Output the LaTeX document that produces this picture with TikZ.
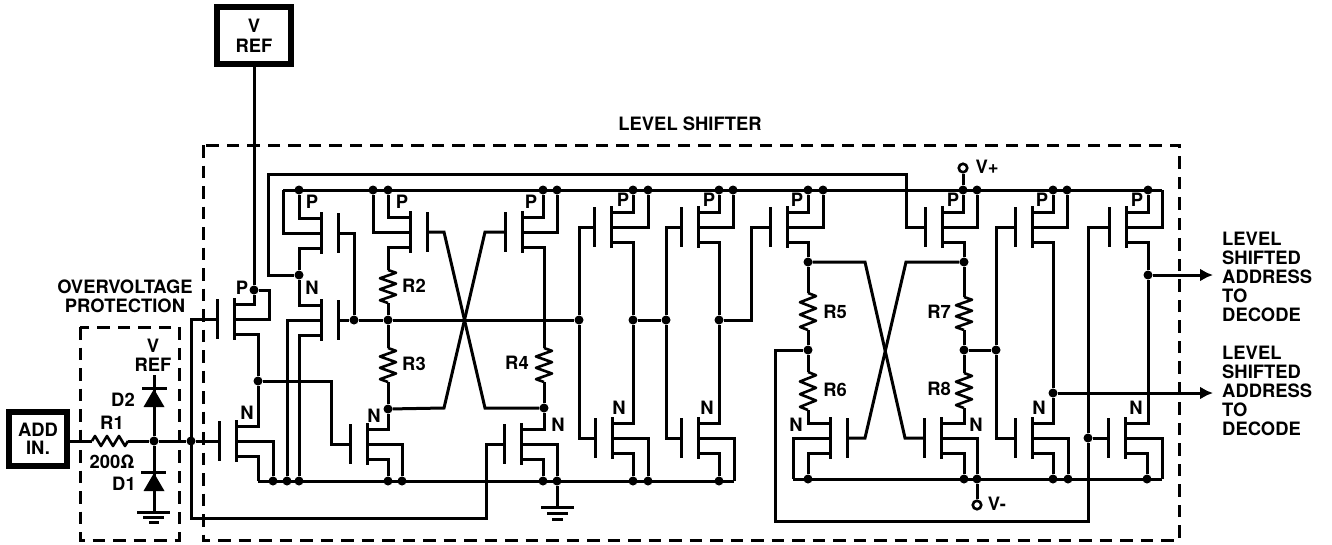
\documentclass[tikz,border=0pt]{standalone}
\usepackage{fontspec}
\setmainfont{TeX Gyre Heros}
\usetikzlibrary{arrows.meta}
\tikzset{
  x=1pt,y=-1pt,
  wire/.style={line width=3pt,line join=miter,line cap=butt},
  plate/.style={line width=3pt},
  box/.style={draw,line width=6pt,minimum width=58pt,minimum height=54pt,inner sep=0pt,align=center,font=\lab},
  jdot/.style={circle,fill=black,inner sep=0pt,minimum size=9pt},
  term/.style={circle,draw,line width=2.6pt,fill=white,inner sep=0pt,minimum size=8.5pt},
  lbl/.style={font=\lab,inner sep=0pt,align=center},
  lbll/.style={font=\lab,inner sep=0pt,align=left},
  dashbox/.style={line width=3pt,dash pattern=on 12.5pt off 8pt},
  outarrow/.style={wire,-{Latex[length=13pt,width=13pt]}},
}
\newcommand\lab{\fontsize{18.4}{19}\selectfont\bfseries}
% name, channel x, mid y, gate side (+1/-1)
\newcommand\fet[4]{%
  \coordinate (#1-d) at (#2,#3-15);
  \coordinate (#1-m) at (#2,#3);
  \coordinate (#1-s) at (#2,#3+15);
  \coordinate (#1-g) at (#2+17*#4,#3);
  \draw[plate] (#2,#3-21) -- (#2,#3+21);
  \draw[plate] (#2+17*#4,#3-20) -- (#2+17*#4,#3+20);
}
% zigzag resistor between two coordinates
\newcommand\vres[3]{%
  \draw[line width=2.6pt,line join=round] (#1,#2)
  \foreach \k/\o in {1/8,3/-8,5/8,7/-8,9/8,11/-8} {-- (#1+\o,{#2+(#3-#2)*\k/12})} -- (#1,#3);
}
\newcommand\jn[3]{\node[jdot] (#1) at (#2,#3) {};}
\begin{document}
\begin{tikzpicture}
\useasboundingbox (0,0) rectangle (1332,544);
% junctions: top bus
\foreach \n/\x in {t1/299,t2/373,t3/388,t4/543,t5/557,t6/633,t7/648,t8/719,t9/733,t10/808,t11/823,t12/963,t13/977,t14/1053,t15/1067,t16/1148} {\jn{\n}{\x}{190}}
\foreach \n/\x in {b1/273,b2/287,b3/299,b4/388,b5/402,b6/543,b7/557,b8/633,b9/648,b10/719} {\jn{\n}{\x}{481}}
\foreach \n/\x in {c1/808,c2/964,c3/977,c4/1053,c5/1068,c6/1147} {\jn{\n}{\x}{479}}
\coordinate (tL) at (283,190); \coordinate (tR) at (1162,190);
\coordinate (bL) at (258,481); \coordinate (bR) at (734,481);
\coordinate (cL) at (793,479); \coordinate (cR) at (1162,479);
\jn{jA}{299}{275} \jn{jB}{354}{320} \jn{jC}{388}{320} \jn{jD}{579}{320}
\jn{jF}{258}{381} \jn{jG}{191}{441} \jn{jH}{154}{441} \jn{jI}{388}{409}
\jn{jJ}{544}{408} \jn{jK}{633}{320} \jn{jL}{666}{320} \jn{jM}{719}{320}
\jn{jN}{808}{262} \jn{jO}{808}{350} \jn{jP}{964}{262} \jn{jQ}{964}{350}
\jn{jR}{996}{350} \jn{jS}{1053}{393} \jn{jT}{1148}{275} \jn{jU}{1088}{438}
\jn{jV}{254}{290}
% transistors
\fet{qa}{234}{319}{-1} \fet{qb}{236}{441}{-1}
\fet{qc}{321}{233}{1}  \fet{qd}{321}{320}{1}
\fet{qe}{367}{444}{-1}
\fet{qf}{410}{232}{1}  \fet{qg}{522}{232}{-1} \fet{qh}{521}{444}{-1}
\fet{qi}{611}{227}{-1} \fet{qj}{612}{438}{-1}
\fet{qk}{698}{227}{-1} \fet{ql}{698}{438}{-1}
\fet{qm}{787}{227}{-1} \fet{qn}{830}{438}{1}
\fet{qo}{942}{227}{-1} \fet{qp}{941}{438}{-1}
\fet{qq}{1032}{227}{-1} \fet{qr}{1032}{438}{-1}
\fet{qs}{1126}{227}{-1} \fet{qt}{1125}{438}{-1}
% boxes and terminals
\node[box,minimum width=74pt,minimum height=57pt] (vref) at (254,35.5) {V\\[1pt]REF};
\node[box] (add) at (38,439) {ADD\\[-1pt]IN.};
\node[term] (vp) at (963,168) {};
\node[term] (vm) at (977,505) {};
% buses
\draw[wire] (tL) -- (tR);
\draw[wire] (bL) -- (bR);
\draw[wire] (cL) -- (cR);
% left input section
\coordinate (r1l) at (92,441); \coordinate (r1r) at (128,441);
\draw[wire] (add.east |- r1l) -- (r1l);
\draw[line width=2.6pt,line join=round] (92,441) -- (95,436) -- (101,446) -- (107,436) -- (113,446) -- (119,436) -- (125,446) -- (128,441);
\draw[wire] (r1r) -- (jH) -- (jG) -- (qb-g);
% D2 / D1
\coordinate (d2t) at (154,375); \coordinate (d1b) at (154,512);
\draw[wire] (d2t) -- (jH) -- (d1b);
\draw[plate] (142,388) -- (167,388);
\fill (154,389) -- (164.5,407) -- (143.5,407) -- cycle;
\draw[plate] (141,472) -- (166,472);
\fill (154,473) -- (164.5,491) -- (143.5,491) -- cycle;
\draw[plate] (137,512) -- (170,512) (143,517) -- (164,517) (149,522.5) -- (159,522.5);
% left P / N
\coordinate (w3) at (269,290);
\draw[wire] (qa-d) -| (jV);
\draw[wire] (qa-m) -| (w3) -- (jV);
\draw[wire] (jV) -- (vref.south);
\draw[wire] (qa-s) -| (jF) |- (qb-d);
\draw[wire] (qb-m) -| (b1);
\draw[wire] (qb-s) -| (bL);
\coordinate (w4) at (191,518); \coordinate (w5) at (486,518);
\draw[wire] (qa-g) -| (w4) -- (w5) |- (qh-g);
\coordinate (w6) at (331,381);
\draw[wire] (jF) -- (w6) |- (qe-g);
% column 299
\draw[wire] (qc-d) -| (t1);
\draw[wire] (qc-m) -| (tL);
\draw[wire] (qc-s) -| (jA) |- (qd-d);
\coordinate (w1) at (268,174); \coordinate (w2) at (906,174);
\draw[wire] (jA) -| (w1) -- (w2) |- (qo-g);
\draw[wire] (qd-m) -| (b2);
\draw[wire] (qd-s) -| (b3);
\draw[wire] (qd-g) -- (jB) -- (jC) -- (jD);
\draw[wire] (qc-g) -| (jB);
% column 388
\coordinate (r2t) at (388,270); \coordinate (r2b) at (388,303);
\coordinate (r3t) at (388,348); \coordinate (r3b) at (388,382);
\draw[wire] (qf-d) -| (t3);
\draw[wire] (qf-m) -| (t2);
\draw[wire] (qf-s) -| (r2t);
\vres{388}{270}{303}
\draw[wire] (r2b) -- (jC) -- (r3t);
\vres{388}{348}{382}
\draw[wire] (r3b) -- (jI) |- (qe-d);
\draw[wire] (qe-m) -| (b5);
\draw[wire] (qe-s) -| (b4);
% cross 1
\coordinate (x1) at (444,232); \coordinate (x2) at (485,408);
\coordinate (x3) at (485,232); \coordinate (x4) at (444,408);
\draw[wire] (qf-g) -- (x1) -- (x2) -- (jJ);
\draw[wire] (qg-g) -- (x3) -- (x4) -- (jI);
% column 543
\coordinate (r4t) at (544,348); \coordinate (r4b) at (544,382);
\draw[wire] (qg-d) -| (t4);
\draw[wire] (qg-m) -| (t5);
\draw[wire] (qg-s) -| (r4t);
\vres{544}{348}{382}
\draw[wire] (r4b) -- (jJ) |- (qh-d);
\draw[wire] (qh-m) -| (b7);
\draw[wire] (qh-s) -| (b6);
\coordinate (g2) at (557,507);
\draw[wire] (b7) -- (g2);
\draw[plate] (541,507) -- (574,507) (547,513) -- (568,513) (552,519) -- (563,519);
% column 633
\draw[wire] (qi-d) -| (t6);
\draw[wire] (qi-m) -| (t7);
\draw[wire] (qi-s) -| (jK) |- (qj-d);
\draw[wire] (qj-m) -| (b9);
\draw[wire] (qj-s) -| (b8);
\draw[wire] (qi-g) -| (jD) |- (qj-g);
\draw[wire] (jK) -- (jL);
% column 719
\draw[wire] (qk-g) -| (jL) |- (ql-g);
\draw[wire] (qk-d) -| (t8);
\draw[wire] (qk-m) -| (t9);
\draw[wire] (qk-s) -| (jM) |- (ql-d);
\draw[wire] (ql-m) -| (bR);
\draw[wire] (ql-s) -| (b10);
\coordinate (w7) at (751,320);
\draw[wire] (jM) -- (w7) |- (qm-g);
% column 808
\coordinate (r5t) at (808,293); \coordinate (r5b) at (808,330);
\coordinate (r6t) at (808,372); \coordinate (r6b) at (808,410);
\draw[wire] (qm-d) -| (t10);
\draw[wire] (qm-m) -| (t11);
\draw[wire] (qm-s) -| (jN) -- (r5t);
\vres{808}{293}{330}
\draw[wire] (r5b) -- (jO) -- (r6t);
\vres{808}{372}{410}
\draw[wire] (r6b) |- (qn-d);
\draw[wire] (qn-m) -| (cL);
\draw[wire] (qn-s) -| (c1);
% cross 2
\coordinate (x5) at (865,262); \coordinate (x6) at (905,438);
\coordinate (x7) at (906,262); \coordinate (x8) at (865,438);
\draw[wire] (jN) -- (x5) -- (x6) -- (qp-g);
\draw[wire] (jP) -- (x7) -- (x8) -- (qn-g);
% column 964
\coordinate (r7t) at (964,297); \coordinate (r7b) at (964,330);
\coordinate (r8t) at (964,373); \coordinate (r8b) at (964,408);
\draw[wire] (qo-d) -| (t12);
\draw[wire] (qo-m) -| (t13);
\draw[wire] (qo-s) -| (jP) -- (r7t);
\vres{964}{297}{330}
\draw[wire] (r7b) -- (jQ) -- (r8t);
\vres{964}{373}{408}
\draw[wire] (r8b) |- (qp-d);
\draw[wire] (qp-m) -| (c3);
\draw[wire] (qp-s) -| (c2);
\draw[wire] (c3) -- (vm);
\draw[wire] (vp) -- (t12);
% column 1053
\draw[wire] (jQ) -- (jR);
\draw[wire] (qq-g) -| (jR) |- (qr-g);
\draw[wire] (qq-d) -| (t14);
\draw[wire] (qq-m) -| (t15);
\draw[wire] (qq-s) -| (jS) |- (qr-d);
\draw[wire] (qr-m) -| (c5);
\draw[wire] (qr-s) -| (c4);
% column 1148
\draw[wire] (qs-d) -| (t16);
\draw[wire] (qs-m) -| (tR);
\draw[wire] (qs-s) -| (jT) |- (qt-d);
\draw[wire] (qt-m) -| (cR);
\draw[wire] (qt-s) -| (c6);
\coordinate (w8) at (775,350); \coordinate (w9) at (775,521); \coordinate (w10) at (1088,521);
\draw[wire] (jO) -- (w8) -- (w9) -- (w10) -- (jU);
\draw[wire] (jU) -- (qt-g);
\draw[wire] (jU) |- (qs-g);
% outputs
\coordinate (o1) at (1213,275); \coordinate (o2) at (1213,393);
\draw[outarrow] (jT) -- (o1);
\draw[outarrow] (jS) -- (o2);
% dashed frames
\draw[dashbox] (203,145) rectangle (1179,540);
\draw[dashbox] (80,327) rectangle (179,540);
% texts
\node[lbl] (tLS) at (690,124) {LEVEL SHIFTER};
\node[lbl] (tOV) at (125,296.5) {OVERVOLTAGE\\PROTECTION};
\node[lbl] (tVR) at (153,355) {V\\REF};
\node[lbl] (tD2) at (123,400) {D2};
\node[lbl] (tD1) at (124,484) {D1};
\node[lbl] (tR1) at (112,423) {R1};
\node[lbl] (tOhm) at (112,462) {200Ω};
\foreach \n/\t/\x/\y in {p1/P/242/288,p2/P/312/202,p3/P/402/202,p4/P/531/202,p5/P/623/200,p6/P/709/200,p7/P/797/200,p8/P/953/200,p9/P/1042/200,p10/P/1137/200,
 n1/N/247/413,n2/N/312/288,n3/N/374/416,n4/N/558/425,n5/N/619/408,n6/N/707/408,n7/N/796/425,n8/N/976/425,n9/N/1039/408,n10/N/1136/408,
 r2/R2/414/286,r3/R3/414/364,r4/R4/517/363,r5/R5/835/312,r6/R6/835/390,r7/R7/939/312,r8/R8/939/389}
 {\node[lbl] (l\n) at (\x,\y) {\t};}
\node[lbl] (lvp) at (987,167) {V+};
\node[lbl] (lvm) at (997,504) {V-};
\node[lbll,anchor=west] (tO1) at (1222,276.5) {LEVEL\\SHIFTED\\ADDRESS\\TO\\DECODE};
\node[lbll,anchor=west] (tO2) at (1222,391) {LEVEL\\SHIFTED\\ADDRESS\\TO\\DECODE};
\end{tikzpicture}
\end{document}
